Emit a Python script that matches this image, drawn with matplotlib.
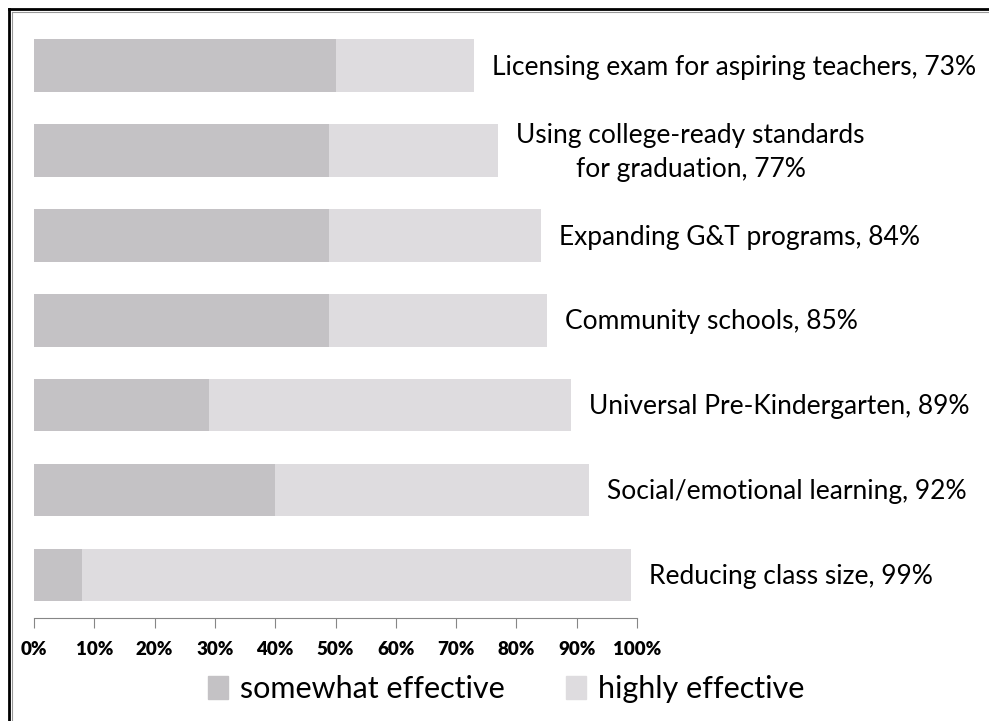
import matplotlib.pyplot as plt
import matplotlib.patches as mpatches
from matplotlib.lines import Line2D
import numpy as np

plt.rcParams['font.family'] = ['Lato', 'DejaVu Sans']

labels = ['Licensing exam for aspiring teachers, 73%',
          'Using college-ready standards\nfor graduation, 77%',
          'Expanding G&T programs, 84%',
          'Community schools, 85%',
          'Universal Pre-Kindergarten, 89%',
          'Social/emotional learning, 92%',
          'Reducing class size, 99%']
somewhat = [50, 49, 49, 49, 29, 40, 8]
total = [73, 77, 84, 85, 89, 92, 99]
highly = [t - s for t, s in zip(total, somewhat)]

c_some = '#c4c2c5'
c_high = '#dedcdf'

fig = plt.figure(figsize=(9.89, 7.21), dpi=100)
ax = fig.add_axes([34/989, 1 - 617.7/721, 603/989, (617.7 - 22.3)/721])

y = np.arange(len(labels))
ax.barh(y, somewhat, height=0.62, color=c_some, label='somewhat effective')
ax.barh(y, highly, left=somewhat, height=0.62, color=c_high, label='highly effective')

for yi, t, lab in zip(y, total, labels):
    ax.text(t + 3, yi + 0.02, lab, ha='left', va='center', multialignment='center',
            fontsize=19, linespacing=1.45, color='black', clip_on=False)

ax.set_xlim(0, 100)
ax.set_ylim(6.503, -0.509)
ax.set_yticks([])
ax.set_xticks(np.arange(0, 101, 10))
ax.set_xticklabels(['%d%%' % v for v in range(0, 101, 10)], fontweight='heavy', fontsize=13.5)
ax.tick_params(axis='x', length=7, color='#868686', pad=10)
for s in ['top', 'right', 'left']:
    ax.spines[s].set_visible(False)
ax.spines['bottom'].set_color('#868686')

handles = [mpatches.Patch(color=c_some, label='somewhat effective'),
           mpatches.Patch(color=c_high, label='highly effective')]
fig.legend(handles=handles, loc='center', bbox_to_anchor=(0.512, 1 - 689/721), ncol=2,
           frameon=False, fontsize=22, handlelength=0.65, handleheight=0.75,
           handletextpad=0.4, columnspacing=2.0)

# page frame (left and top edges visible)
fig.add_artist(Line2D([9/989, 9/989], [0, 1 - 9/721], color='black', lw=2))
fig.add_artist(Line2D([9/989, 1], [1 - 9/721, 1 - 9/721], color='black', lw=2))
fig.add_artist(Line2D([11.5/989, 11.5/989], [0, 1 - 11.5/721], color='#999999', lw=0.8))
fig.add_artist(Line2D([11.5/989, 1], [1 - 11.5/721, 1 - 11.5/721], color='#999999', lw=0.8))

fig.savefig('out.png', dpi=100)
